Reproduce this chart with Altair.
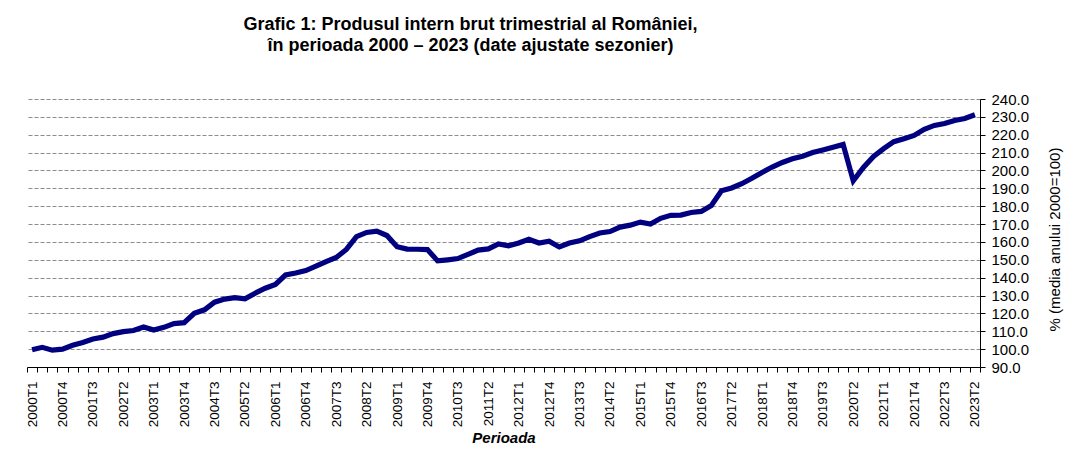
import altair as alt
import pandas as pd

# ---- data (PIB trimestrial, media 2000 = 100)
perioade = [f"{an}T{t}" for an in range(2000, 2024) for t in range(1, 5)][:94]

pib = [
    99.6, 101.0, 99.4, 100.0, 102.2, 103.7, 105.7, 106.7, 108.7, 109.8,
    110.4, 112.4, 110.7, 112.2, 114.3, 114.8, 120.0, 122.0, 126.3, 128.0,
    128.8, 128.2, 131.3, 134.1, 136.2, 141.5, 142.6, 144.0, 146.4, 149.0,
    151.3, 155.8, 163.0, 165.3, 166.0, 163.6, 157.3, 156.0, 155.9, 155.7,
    149.4, 150.0, 150.7, 153.0, 155.4, 156.1, 158.9, 157.8, 159.4, 161.5,
    159.4, 160.4, 157.2, 159.4, 160.6, 163.0, 165.0, 165.8, 168.3, 169.4,
    171.1, 170.0, 173.2, 174.9, 175.0, 176.5, 177.1, 180.4, 188.6, 190.2,
    192.6, 195.6, 198.9, 201.9, 204.5, 206.5, 208.0, 210.0, 211.5, 213.0,
    214.6, 194.2, 201.7, 207.8, 212.2, 216.1, 217.8, 219.6, 223.0, 225.2,
    226.3, 228.0, 229.1, 231.2,
]

etichete_x = perioade[::3]
valori_y = list(range(90, 250, 10))

titlu = [
    "Grafic 1: Produsul intern brut trimestrial al României,",
    "în perioada 2000 – 2023 (date ajustate sezonier)",
]

df = pd.DataFrame({"perioada": perioade, "pib": pib})

FONT = "Liberation Sans"
lista_js = "[" + ",".join(f"'{e}'" for e in etichete_x) + "]"

chart = alt.Chart(df).mark_line(color="#000080", strokeWidth=5.2).encode(
    x=alt.X(
        "perioada:O",
        sort=perioade,
        bandPosition=0.5,
        scale=alt.Scale(type="band", paddingInner=0, paddingOuter=0),
        axis=alt.Axis(
            title="Perioada",
            titleFont=FONT,
            titleFontSize=15,
            titleFontWeight="bold",
            titleFontStyle="italic",
            titleColor="black",
            titlePadding=4,
            labelExpr=f"indexof({lista_js}, datum.value) >= 0 ? datum.value : ''",
            labelAngle=270,
            labelFont=FONT,
            labelFontSize=13.5,
            labelColor="black",
            labelPadding=9,
            labelOverlap=False,
            labelFlush=False,
            tickBand="extent",
            tickColor="black",
            tickSize=5,
            domainColor="black",
            grid=False,
            zindex=1,
        ),
    ),
    y=alt.Y(
        "pib:Q",
        scale=alt.Scale(domain=[90, 240], nice=False, zero=False),
        axis=alt.Axis(
            orient="right",
            values=valori_y,
            format=".1f",
            title="% (media anului 2000=100)",
            titleAngle=270,
            titleY=140,
            titleFont=FONT,
            titleFontSize=15,
            titleFontWeight="normal",
            titleColor="black",
            titlePadding=34,
            labelFont=FONT,
            labelFontSize=15,
            labelColor="black",
            labelPadding=6,
            tickColor="black",
            tickSize=5,
            domainColor="black",
            grid=True,
            gridColor="#8c8c8c",
            gridDash=[4, 2],
            gridWidth=1,
        ),
    ),
).properties(
    width=953,
    height=268,
    title=alt.TitleParams(
        titlu,
        font=FONT,
        fontSize=18,
        fontWeight="bold",
        color="black",
        anchor="middle",
        dx=-33,
        offset=37,
        lineHeight=21,
    ),
    autosize=alt.AutoSizeParams(type="none"),
    padding={"left": 19, "top": 91, "right": 104, "bottom": 78},
).configure_view(stroke=None)

chart.save("out.html", embed_options={"renderer": "svg", "actions": False})
